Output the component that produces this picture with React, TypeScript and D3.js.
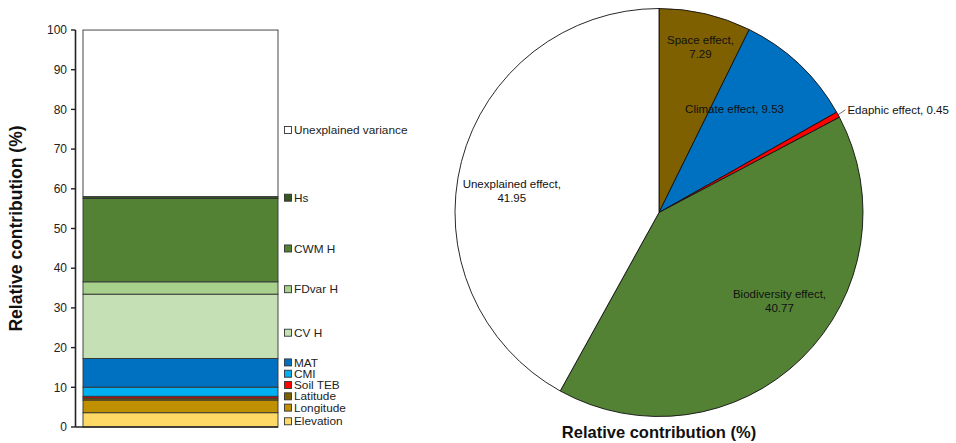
import React from "react";
import * as d3 from "d3";

const segNames = ["Elevation", "Longitude", "Latitude", "Soil TEB", "CMI", "MAT", "CV H", "FDvar H", "CWM H", "Hs", "Unexplained variance"];
const segValues = [3.6, 3.2, 0.49, 0.45, 2.3, 7.23, 16.2, 3.1, 21.0, 0.47, 41.95];
const segColors = ["#FFD966", "#BF9000", "#7F6000", "#FF0000", "#00B0F0", "#0070C0", "#C5E0B4", "#A9D18E", "#548235", "#375623", "#FFFFFF"];
const yTicks = [0, 10, 20, 30, 40, 50, 60, 70, 80, 90, 100];

const pieNames = ["Space effect", "Climate effect", "Edaphic effect", "Biodiversity effect", "Unexplained effect"];
const pieValues = [7.29, 9.53, 0.45, 40.77, 41.95];
const pieColors = ["#7F6000", "#0070C0", "#FF0000", "#548235", "#FFFFFF"];

const FONT = "Liberation Sans, Arial, sans-serif";

export default function App() {
  const W = 956, H = 443;
  const y = d3.scaleLinear().domain([0, 100]).range([427, 30]);
  const xb = d3.scaleBand().domain(["bar"]).range([83, 278]).padding(0);
  const bx = xb("bar") as number;
  const bw = xb.bandwidth();

  // stacked segments
  let acc = 0;
  const segs = segValues.map((v, i) => {
    const s = { name: segNames[i], y0: acc, y1: acc + v, color: segColors[i] };
    acc += v;
    return s;
  });

  // legend labels: anchored inside each segment, then pushed apart from the bottom
  const gap = 11.3;
  const labelY: number[] = [];
  segs.forEach((s, i) => {
    let p = y(s.y0 + (s.y1 - s.y0) * 0.4);
    if (i > 0) p = Math.min(p, labelY[i - 1] - gap);
    labelY.push(p);
  });

  // pie
  const cx = 659, cy = 212.5, R = 204;
  const pie = d3.pie<number>().sort(null).value((d) => d)(pieValues);
  const arc = d3.arc<d3.PieArcDatum<number>>().innerRadius(0).outerRadius(R);
  // label placement: [angle (deg from 12 o'clock), radius fraction]
  const place: Record<string, [number, number]> = {
    "Space effect": [14, 0.84],
    "Climate effect": [36, 0.63],
    "Biodiversity effect": [126, 0.73],
    "Unexplained effect": [278.6, 0.73],
  };

  return (
    <svg width={W} height={H} style={{ position: "absolute", left: 0, top: 0, background: "#fff" }} fontFamily={FONT}>
      {/* Left stacked bar */}
      <g>
        {segs.map((s) => (
          <rect key={s.name} x={bx} width={bw} y={y(s.y1)} height={y(s.y0) - y(s.y1)} fill={s.color} stroke="#333" strokeWidth={0.9} />
        ))}
        <line x1={75.5} x2={75.5} y1={y(0)} y2={y(100)} stroke="#222" strokeWidth={1.6} />
        <line x1={75.5} x2={bx + bw} y1={y(0)} y2={y(0)} stroke="#222" strokeWidth={1.6} />
        {yTicks.map((t) => (
          <g key={t}>
            <line x1={71} x2={75.5} y1={y(t)} y2={y(t)} stroke="#222" strokeWidth={1.4} />
            <text x={67} y={y(t)} dy="0.35em" textAnchor="end" fontSize={12} fill="#222">{t}</text>
          </g>
        ))}
        <text transform={`translate(22,${(y(0) + y(100)) / 2}) rotate(-90)`} textAnchor="middle" fontSize={17.5} fontWeight="bold" fill="#111">Relative contribution (%)</text>
        {segs.map((s, i) => (
          <g key={"lg" + s.name}>
            <rect x={284.5} y={labelY[i] - 3.5} width={7} height={7} fill={s.color} stroke="#333" strokeWidth={0.9} />
            <text x={294} y={labelY[i]} dy="0.35em" fontSize={11.8} fill="#222">{s.name}</text>
          </g>
        ))}
      </g>

      {/* Pie */}
      <g transform={`translate(${cx},${cy})`}>
        {pie.map((p, i) => (
          <path key={pieNames[i]} d={arc(p) as string} fill={pieColors[i]} stroke="#111" strokeWidth={0.9} />
        ))}
        {pie.map((p, i) => {
          const name = pieNames[i];
          const val = pieValues[i].toFixed(2);
          if (place[name]) {
            const [ang, rf] = place[name];
            const a = (ang * Math.PI) / 180;
            const lx = Math.sin(a) * R * rf;
            const ly = -Math.cos(a) * R * rf;
            if (name === "Climate effect") {
              return (
                <text key={"l" + name} x={lx} y={ly} dy="0.35em" textAnchor="middle" fontSize={11.5} fill="#111">{`${name}, ${val}`}</text>
              );
            }
            return (
              <text key={"l" + name} x={lx} y={ly} textAnchor="middle" fontSize={11.5} fill="#111">
                <tspan x={lx} dy="-0.2em">{name + ","}</tspan>
                <tspan x={lx} dy="1.2em">{val}</tspan>
              </text>
            );
          }
          const mid = (p.startAngle + p.endAngle) / 2;
          const ex = Math.sin(mid) * R, ey = -Math.cos(mid) * R;
          const tx = Math.sin(mid) * R * 1.03, ty = -Math.cos(mid) * R * 1.03;
          return (
            <g key={"l" + name}>
              <line x1={ex} y1={ey} x2={tx + 2} y2={ty - 2} stroke="#444" strokeWidth={0.8} />
              <text x={tx + 4} y={ty - 2} dy="0.35em" fontSize={11.5} fill="#111">{`${name}, ${val}`}</text>
            </g>
          );
        })}
      </g>
      <text x={cx} y={438} textAnchor="middle" fontSize={16.5} fontWeight="bold" fill="#111">Relative contribution (%)</text>
    </svg>
  );
}
